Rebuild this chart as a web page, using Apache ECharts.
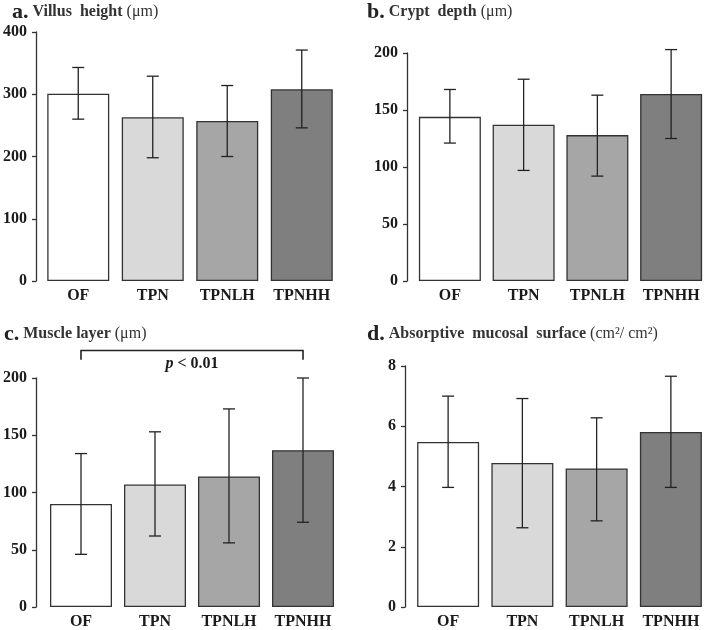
<!DOCTYPE html>
<html><head><meta charset="utf-8">
<script src="https://cdn.jsdelivr.net/npm/echarts@6/dist/echarts.min.js"></script>
<style>html,body{margin:0;padding:0;background:#fff}#c{width:708px;height:630px}</style>
</head><body><div id="c"></div>
<script>
const categories = ['OF', 'TPN', 'TPNLH', 'TPNHH'];
const barColors = ['#ffffff', '#d9d9d9', '#a6a6a6', '#7f7f7f'];

const villusMean  = [301, 263, 257, 308];
const villusUpper = [343, 329, 314, 371];
const villusLower = [260, 198, 200, 246];
const villusTicks = [0, 100, 200, 300, 400];

const cryptMean  = [144, 137, 128, 164];
const cryptUpper = [168, 177, 163, 203];
const cryptLower = [121, 97, 92, 125];
const cryptTicks = [0, 50, 100, 150, 200];

const muscleMean  = [90, 107, 114, 137];
const muscleUpper = [134, 153, 173, 200];
const muscleLower = [46, 62, 56, 74];
const muscleTicks = [0, 50, 100, 150, 200];

const surfaceMean  = [5.48, 4.78, 4.60, 5.81];
const surfaceUpper = [7.00, 6.92, 6.28, 7.66];
const surfaceLower = [3.97, 2.63, 2.86, 3.97];
const surfaceTicks = [0, 2, 4, 6, 8];

const bracketFrom = 'OF';
const bracketTo = 'TPNHH';
const bracketTop = 224;
const bracketLeg = 216;
const bracketTextLevel = 212;

const FONT = "'Liberation Serif', 'Times New Roman', serif";
const INK = '#1a1a1a';

const grids = [
  {left: 40, top: 32, width: 299, height: 249},
  {left: 413, top: 53, width: 298, height: 228},
  {left: 43, top: 378, width: 297, height: 231},
  {left: 411, top: 366, width: 300, height: 242}
];
const offsets = [5, 6, 8, 6];
const tickSets = [villusTicks, cryptTicks, muscleTicks, surfaceTicks];

const xAxes = grids.map((g, i) => ({
  gridIndex: i, type: 'category', data: categories,
  axisLine: {show: false}, axisTick: {show: false},
  axisLabel: {interval: 0, fontFamily: FONT, fontWeight: 'bold', fontSize: 16, color: INK, margin: 7}
}));
const yAxes = grids.map((g, i) => {
  const t = tickSets[i];
  return {
    gridIndex: i, type: 'value', min: t[0], max: t[t.length - 1], interval: t[1] - t[0],
    offset: offsets[i],
    splitLine: {show: false},
    axisLine: {show: true, lineStyle: {color: '#333', width: 1.3}},
    axisTick: {show: true, length: 4, lineStyle: {color: '#333', width: 1.3}},
    axisLabel: {fontFamily: FONT, fontWeight: 'bold', fontSize: 16, color: INK, margin: 9}
  };
});

function barSeries(i, mean) {
  return {
    type: 'bar', xAxisIndex: i, yAxisIndex: i, barWidth: 62,
    data: mean.map((v, k) => ({value: v, itemStyle: {color: barColors[k]}})),
    itemStyle: {borderColor: '#333', borderWidth: 1.3},
    silent: true
  };
}
function errSeries(i, lower, upper) {
  return {
    type: 'custom', xAxisIndex: i, yAxisIndex: i, z: 10, silent: true,
    data: categories.map((c, k) => [k, lower[k], upper[k]]),
    encode: {x: 0, y: [1, 2]},
    renderItem(params, api) {
      const lo = api.coord([api.value(0), api.value(1)]);
      const hi = api.coord([api.value(0), api.value(2)]);
      const hw = 6;
      const st = {stroke: '#222', lineWidth: 1.3};
      return {type: 'group', children: [
        {type: 'line', shape: {x1: hi[0], y1: hi[1], x2: lo[0], y2: lo[1]}, style: st},
        {type: 'line', shape: {x1: hi[0] - hw, y1: hi[1], x2: hi[0] + hw, y2: hi[1]}, style: st},
        {type: 'line', shape: {x1: lo[0] - hw, y1: lo[1], x2: lo[0] + hw, y2: lo[1]}, style: st}
      ]};
    }
  };
}
const bracketSeries = {
  type: 'custom', xAxisIndex: 2, yAxisIndex: 2, z: 10, silent: true, clip: false,
  data: [[categories.indexOf(bracketFrom), categories.indexOf(bracketTo), bracketTop, bracketLeg, bracketTextLevel]],
  encode: {x: [0, 1], y: 2},
  renderItem(params, api) {
    const a = api.coord([api.value(0), api.value(2)]);
    const b = api.coord([api.value(1), api.value(2)]);
    const a2 = api.coord([api.value(0), api.value(3)]);
    const b2 = api.coord([api.value(1), api.value(3)]);
    const ty = api.coord([api.value(0), api.value(4)])[1];
    const tx = (a[0] + b[0]) / 2;
    const st = {stroke: '#222', lineWidth: 1.6, fill: null};
    return {type: 'group', children: [
      {type: 'polyline', shape: {points: [[a2[0], a2[1]], [a[0], a[1]], [b[0], b[1]], [b2[0], b2[1]]]}, style: st},
      {type: 'text', x: tx, y: ty, style: {
        text: '{i|p}{n| < 0.01}', align: 'center', verticalAlign: 'middle',
        rich: {
          i: {fontFamily: FONT, fontStyle: 'italic', fontWeight: 'bold', fontSize: 16, fill: INK},
          n: {fontFamily: FONT, fontWeight: 'bold', fontSize: 16, fill: INK}
        }
      }}
    ]};
  }
};

function mkTitle(letter, bold, rest, left, top) {
  return {
    left: left, top: top,
    text: '{l|' + letter + '}{b| ' + bold + '}{r| ' + rest + '}',
    textStyle: {
      rich: {
        l: {fontFamily: FONT, fontWeight: 'bold', fontSize: 22, color: '#222'},
        b: {fontFamily: FONT, fontWeight: 'bold', fontSize: 16, color: '#333'},
        r: {fontFamily: FONT, fontWeight: 'normal', fontSize: 16, color: '#333'}
      }
    }
  };
}

const option = {
  backgroundColor: '#fff',
  animation: false,
  title: [
    mkTitle('a.', 'Villus  height', '(μm)', 7, -4),
    mkTitle('b.', 'Crypt  depth', '(μm)', 362, -4),
    mkTitle('c.', 'Muscle layer', '(μm)', -1, 318),
    mkTitle('d.', 'Absorptive  mucosal  surface', '(cm²/ cm²)', 362, 318)
  ],
  grid: grids,
  xAxis: xAxes,
  yAxis: yAxes,
  series: [
    barSeries(0, villusMean), errSeries(0, villusLower, villusUpper),
    barSeries(1, cryptMean), errSeries(1, cryptLower, cryptUpper),
    barSeries(2, muscleMean), errSeries(2, muscleLower, muscleUpper),
    barSeries(3, surfaceMean), errSeries(3, surfaceLower, surfaceUpper),
    bracketSeries
  ]
};
const chart = echarts.init(document.getElementById('c'), null, {renderer: 'canvas'});
chart.setOption(option);
</script>
</body></html>
